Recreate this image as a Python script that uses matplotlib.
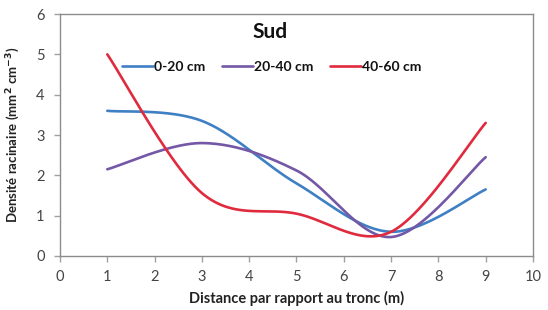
import numpy as np
import matplotlib
matplotlib.use("Agg")
import matplotlib.pyplot as plt

plt.rcParams['font.family'] = ['Lato', 'DejaVu Sans']

distance = [1, 3, 5, 7, 9]
d0_20 = [3.6, 3.35, 1.8, 0.6, 1.65]
d20_40 = [2.15, 2.8, 2.12, 0.47, 2.45]
d40_60 = [5.0, 1.56, 1.05, 0.6, 3.3]
labels = ["0-20 cm", "20-40 cm", "40-60 cm"]
colors = ["#3f7fc4", "#7457a6", "#e02a3e"]


def smooth(xs, ys, n=60):
    P = np.column_stack([xs, ys]).astype(float)
    m = len(P)
    out = []
    for i in range(m - 1):
        p0 = P[i]
        p1 = P[i + 1]
        pm = P[i - 1] if i > 0 else P[i]
        pp = P[i + 2] if i + 2 < m else P[i + 1]
        c1 = p0 + (p1 - pm) / 6.0
        c2 = p1 - (pp - p0) / 6.0
        t = np.linspace(0, 1, n)[:, None]
        seg = ((1 - t) ** 3) * p0 + 3 * ((1 - t) ** 2) * t * c1 + 3 * (1 - t) * t ** 2 * c2 + t ** 3 * p1
        out.append(seg if i == 0 else seg[1:])
    s = np.vstack(out)
    return s[:, 0], s[:, 1]


fig = plt.figure(figsize=(5.48, 3.10), dpi=100)
ax = fig.add_axes([0.1095, 0.1742, 0.8631, 0.7806])

for ys, lab, col in zip([d0_20, d20_40, d40_60], labels, colors):
    sx, sy = smooth(distance, ys)
    ax.plot(sx, sy, color=col, lw=1.9, label=lab, solid_capstyle='round')

ax.set_xlim(0, 10)
ax.set_ylim(0, 6)
ax.set_xticks(range(0, 11))
ax.set_yticks(range(0, 7))
for sp in ax.spines.values():
    sp.set_color("#8c8c8c")
    sp.set_linewidth(1.0)
ax.tick_params(axis='both', colors="#a0a0a0", labelcolor="#444444", labelsize=10.5, length=4, width=1)
ax.tick_params(axis='y', length=4, pad=7)
ax.tick_params(axis='x', pad=6)

ax.set_xlabel("Distance par rapport au tronc (m)", fontsize=10.5, fontweight='bold', color="#222222", labelpad=5)
ax.set_ylabel("Densité racinaire (mm$^{\\mathbf{2}}$ cm$^{\\mathbf{-3}}$)", fontsize=9.5, fontweight='bold', color="#222222", labelpad=10)

ax.text(4.45, 5.55, "Sud", fontsize=15, fontweight='bold', ha='center', va='center', color="#111111")

leg = ax.legend(loc='center left', bbox_to_anchor=(0.105, 0.78), ncol=3, frameon=False,
                handlelength=2.2, handletextpad=0.1, columnspacing=1.2,
                prop={'weight': 'bold', 'size': 10})
for t in leg.get_texts():
    t.set_color("#111111")

fig.savefig("out.png", dpi=100)
